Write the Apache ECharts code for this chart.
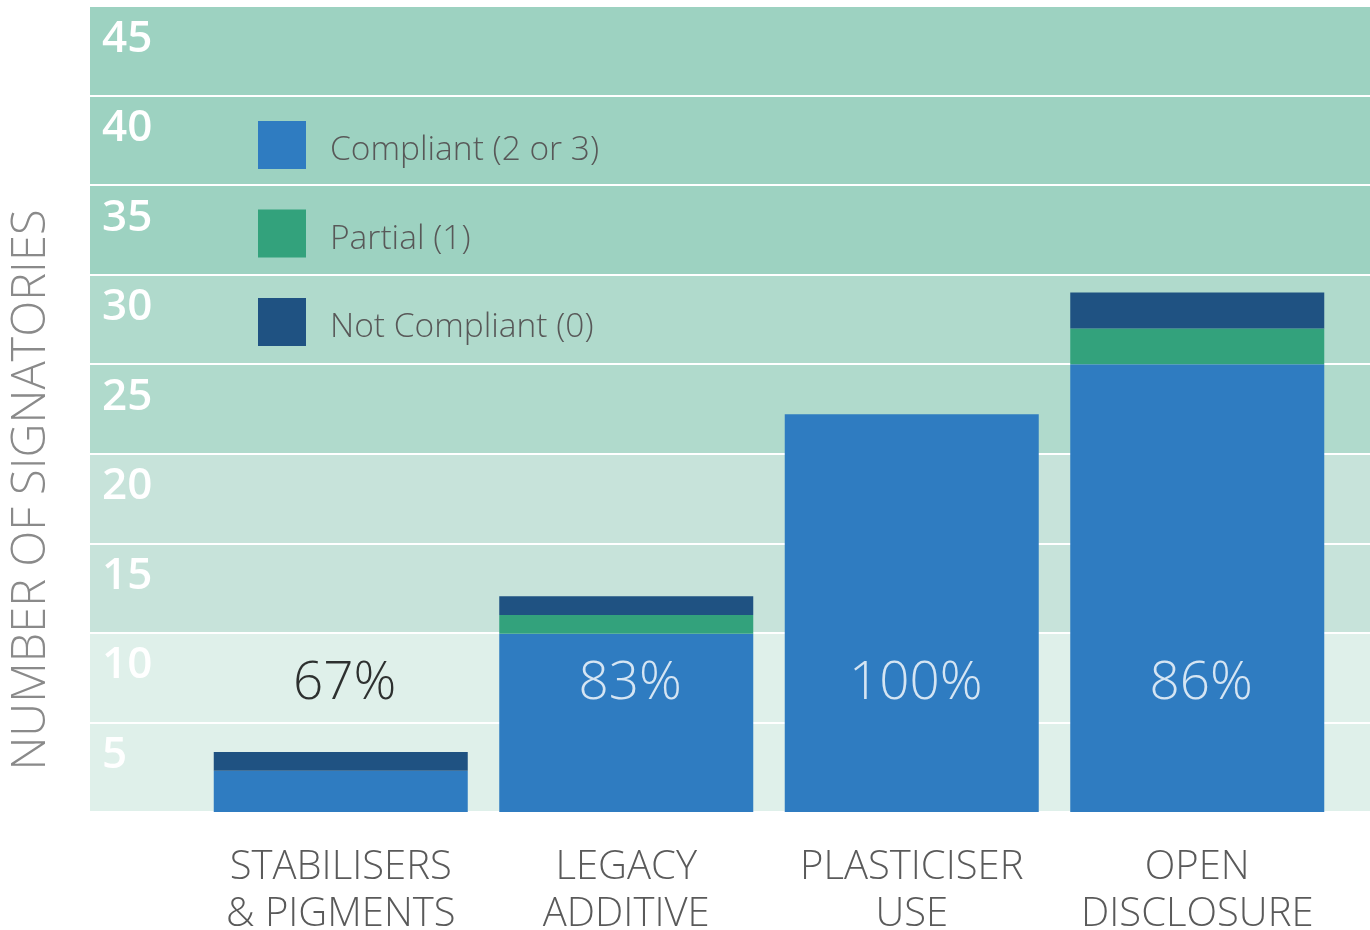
<!DOCTYPE html>
<html><head><meta charset="utf-8">
<script src="https://cdn.jsdelivr.net/npm/echarts@6/dist/echarts.min.js"></script>
<style>html,body{margin:0;padding:0;background:#fff}#c{width:1370px;height:930px}</style>
</head><body><div id="c"></div>
<script>
const categories = ['STABILISERS\n& PIGMENTS', 'LEGACY\nADDITIVE', 'PLASTICISER\nUSE', 'OPEN\nDISCLOSURE'];
const compliant = [2.3, 9.95, 22.2, 25];
const partial = [0, 1.05, 0, 2];
const notCompliant = [1.05, 1.05, 0, 2];
const percentLabels = ['67%', '83%', '100%', '86%'];
const seriesNames = ['Compliant (2 or 3)', 'Partial (1)', 'Not Compliant (0)'];
const yTicks = [0, 5, 10, 15, 20, 25, 30, 35, 40, 45];
const axisName = 'NUMBER OF SIGNATORIES';

const LABEL_Y = 7.15;
const FONT = "'Open Sans', Roboto, sans-serif";
const bandColors = ['#dff0ea', '#dff0ea', '#c7e3da', '#c7e3da', '#b0dacc', '#b0dacc', '#9dd2c1', '#9dd2c1', '#9dd2c1'];
const colors = ['#2f7cc1', '#33a27c', '#1f5282'];

const chart = echarts.init(document.getElementById('c'), null, {renderer: 'canvas'});
const barCommon = {type: 'bar', stack: 'total', xAxisIndex: 1, yAxisIndex: 1, barWidth: 254};
chart.setOption({
  animation: false,
  grid: [
    {left: 90, right: 0, top: 6, bottom: 118, outerBoundsMode: 'none', containLabel: false},
    {left: 198, right: 30, top: 6, bottom: 118, outerBoundsMode: 'none', containLabel: false}
  ],
  legend: {
    orient: 'vertical', left: 258, top: 121, padding: 0,
    itemWidth: 48, itemHeight: 48, itemGap: 40.5, icon: 'rect',
    data: seriesNames,
    formatter: name => '{t|' + name + '}',
    textStyle: {color: '#585858', fontSize: 33.5, fontWeight: 300, fontFamily: FONT,
      rich: {t: {color: '#585858', fontSize: 33.5, fontWeight: 300, fontFamily: FONT, padding: [11, 0, 0, 19]}}}
  },
  xAxis: [
    {gridIndex: 0, type: 'value', show: false, min: 0, max: 1},
    {gridIndex: 1, type: 'category', data: categories,
     axisLine: {show: false}, axisTick: {show: false},
     axisLabel: {interval: 0, hideOverlap: false, color: '#5a5a5a', fontSize: 40, fontWeight: 300, fontFamily: FONT, lineHeight: 47, margin: 32}}
  ],
  yAxis: [
    {gridIndex: 0, type: 'value', min: yTicks[0], max: yTicks[yTicks.length - 1], interval: 5,
     axisLine: {show: false}, axisTick: {show: false},
     splitLine: {show: true, lineStyle: {color: '#ffffff', width: 2}},
     splitArea: {show: true, areaStyle: {color: bandColors}},
     axisLabel: {inside: true, margin: 12, color: '#ffffff', fontSize: 44, fontWeight: 600, fontFamily: FONT,
       verticalAlign: 'top', lineHeight: 66,
       formatter: v => (v === 0 ? '' : String(v))}},
    {gridIndex: 1, type: 'value', min: yTicks[0], max: yTicks[yTicks.length - 1], show: false}
  ],
  graphic: [{
    type: 'text', x: 32, y: 490, rotation: Math.PI / 2,
    style: {text: axisName, fill: '#8a8a8a', font: "300 47px 'Open Sans', Roboto, sans-serif",
      align: 'center', verticalAlign: 'middle'}
  }],
  series: [
    Object.assign({name: seriesNames[0], data: compliant, itemStyle: {color: colors[0]}}, barCommon),
    Object.assign({name: seriesNames[1], data: partial, itemStyle: {color: colors[1]}}, barCommon),
    Object.assign({name: seriesNames[2], data: notCompliant, itemStyle: {color: colors[2]}}, barCommon),
    {type: 'scatter', xAxisIndex: 1, yAxisIndex: 1, symbolSize: 0, z: 5, silent: true,
     data: categories.map((c, i) => ({
       value: [i, LABEL_Y],
       label: {show: true, position: 'inside', offset: [4, 0], formatter: percentLabels[i],
         color: compliant[i] > LABEL_Y ? '#ffffff' : '#000000',
         fontSize: 53, fontWeight: 300, fontFamily: FONT}
     }))}
  ]
});
</script></body></html>
